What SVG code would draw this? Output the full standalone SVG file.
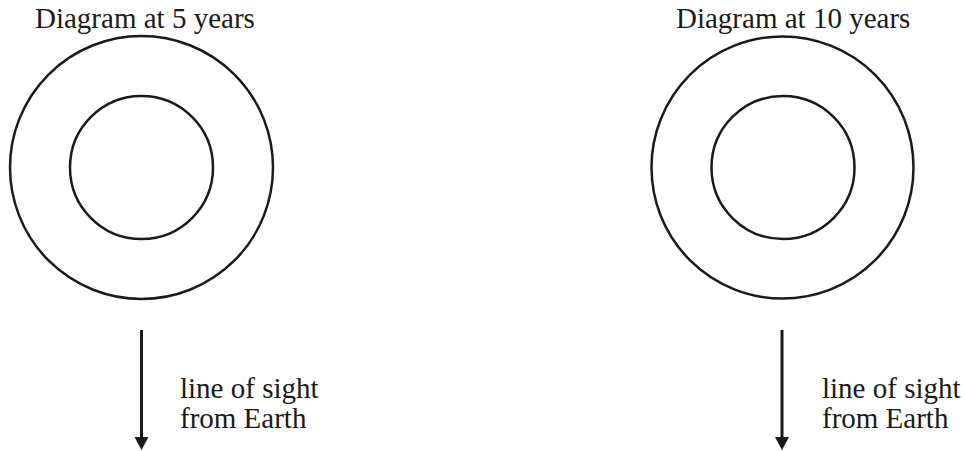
<svg xmlns="http://www.w3.org/2000/svg" width="965" height="451" viewBox="0 0 965 451">
<style>
text{font-family:"Liberation Serif","Times New Roman",serif;font-size:29px;fill:#1a1a1a}
.ring{fill:none;stroke:#1a1a1a;stroke-width:2.5}
.conn{stroke:#1a1a1a;stroke-width:3;fill:none}
.head{fill:#1a1a1a}
</style>
<rect width="965" height="451" fill="#fff"/>
<g id="diagram5">
<text x="35" y="28">Diagram at 5 years</text>
<circle class="ring" cx="141.5" cy="167.5" r="131.5"/>
<circle class="ring" cx="141.5" cy="167.5" r="71.5"/>
</g>
<g id="diagram10">
<text x="676" y="28">Diagram at 10 years</text>
<circle class="ring" cx="782.5" cy="167.5" r="131"/>
<circle class="ring" cx="783" cy="167.5" r="71.5"/>
</g>
<g id="connectors">
<line class="conn" x1="141.5" y1="330" x2="141.5" y2="437"/>
<path class="head" d="M134.5,437 L148.5,437 L141.5,450 Z"/>
<line class="conn" x1="782" y1="330" x2="782" y2="437"/>
<path class="head" d="M775,437 L789,437 L782,450 Z"/>
</g>
<g id="label5">
<text x="180" y="398">line of sight</text>
<text x="180" y="428">from Earth</text>
</g>
<g id="label10">
<text x="822" y="398">line of sight</text>
<text x="822" y="428">from Earth</text>
</g>
</svg>
